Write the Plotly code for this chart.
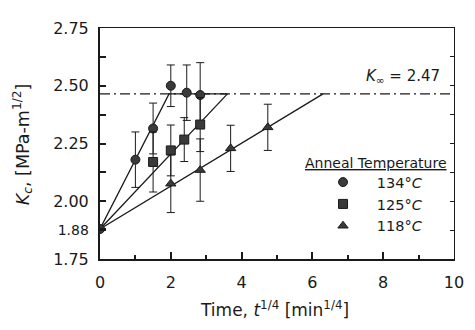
import plotly.graph_objects as go

# 134 C (circles)
t134 = [0, 1.0, 1.5, 2.0, 2.45, 2.83]
k134 = [1.88, 2.18, 2.315, 2.50, 2.47, 2.46]
e134 = [0, 0.12, 0.11, 0.09, 0.12, 0.14]
# 125 C (squares)
t125 = [1.5, 2.0, 2.38, 2.83]
k125 = [2.17, 2.22, 2.267, 2.332]
e125 = [0.13, 0.11, 0.095, 0.117]
# 118 C (triangles)
t118 = [2.0, 2.83, 3.69, 4.74]
k118 = [2.076, 2.135, 2.229, 2.32]
e118 = [0.125, 0.135, 0.10, 0.10]

# fit lines
fit134_x = [0, 1.95, 3.6]
fit134_y = [1.88, 2.465, 2.465]
fit125_x = [0, 3.6]
fit125_y = [1.88, 2.465]
fit118_x = [0, 6.3]
fit118_y = [1.88, 2.465]

k_inf = 2.465
kinf_x = [0, 10]

ytickvals = [1.75, 1.88, 2.00, 2.25, 2.50, 2.75]
yticktext = ["1.75", "<span style='font-size:14px'>1.88</span>", "2.00", "2.25", "2.50", "2.75"]
xtickvals = [0, 2, 4, 6, 8, 10]

INK = "#1a1a1a"
FONT = "DejaVu Sans, sans-serif"

fig = go.Figure()

fig.add_trace(go.Scatter(x=kinf_x, y=[k_inf, k_inf], mode="lines",
                         line=dict(color=INK, width=1.2, dash="10px,4px,2px,4px"),
                         showlegend=False, hoverinfo="skip"))
for fx, fy in [(fit134_x, fit134_y), (fit125_x, fit125_y), (fit118_x, fit118_y)]:
    fig.add_trace(go.Scatter(x=fx, y=fy, mode="lines",
                             line=dict(color=INK, width=1.3),
                             showlegend=False, hoverinfo="skip"))

def add_series(x, y, e, sym, name):
    fig.add_trace(go.Scatter(
        x=x, y=y, mode="markers", name=name,
        marker=dict(symbol=sym, size=9, color="#3a3a3a",
                    line=dict(color=INK, width=1)),
        error_y=dict(type="data", array=e, visible=True, color=INK,
                     thickness=1, width=4)))

add_series(t134, k134, e134, "circle", "&nbsp;&nbsp;&nbsp;134°<i>C</i>")
add_series(t125, k125, e125, "square", "&nbsp;&nbsp;&nbsp;125°<i>C</i>")
add_series(t118, k118, e118, "triangle-up", "&nbsp;&nbsp;&nbsp;118°<i>C</i>")

fig.update_layout(
    width=467, height=322,
    margin=dict(l=92, r=14, t=11, b=71),
    paper_bgcolor="white", plot_bgcolor="white",
    font=dict(family=FONT, size=16, color=INK),
    showlegend=True,
    legend=dict(x=0.630, y=0.402, xanchor="left", yanchor="top",
                bgcolor="rgba(0,0,0,0)", font=dict(size=14.5), tracegroupgap=0),
    xaxis=dict(range=[0, 10], tickvals=xtickvals, ticks="inside", ticklen=7,
               tickwidth=1.5, tickcolor=INK, showgrid=False, zeroline=False,
               showline=True, linecolor=INK, linewidth=2, mirror=False,
               minor=dict(ticks="inside", ticklen=4, dtick=1, tickcolor=INK),
               ticklabelstandoff=8),
    yaxis=dict(range=[1.75, 2.75], tickvals=ytickvals, ticktext=yticktext,
               ticks="inside", ticklen=6, tickwidth=1.5, tickcolor=INK,
               showgrid=False, zeroline=False, showline=True, linecolor=INK,
               linewidth=2, mirror=False,
               minor=dict(ticks="inside", ticklen=6, tickvals=[1.875, 2.125, 2.375, 2.625],
                          tickcolor=INK),
               ticklabelstandoff=6),
    xaxis2=dict(range=[0, 10], overlaying="x", side="top", showticklabels=False,
                showline=True, linecolor=INK, linewidth=1, ticks="", showgrid=False,
                zeroline=False),
    yaxis2=dict(range=[1.75, 2.75], overlaying="y", side="right", showticklabels=False,
                showline=True, linecolor=INK, linewidth=1, ticks="inside", ticklen=4,
                tickvals=[1.875, 2.0, 2.125, 2.25, 2.375, 2.5, 2.625], tickcolor=INK,
                showgrid=False, zeroline=False, anchor="x"),
    annotations=[
        dict(text="<i>K</i><sub><i>c</i></sub>, [MPa-m<sup>1/2</sup>]", textangle=-90,
             xref="paper", yref="paper", x=-0.218, y=0.496, showarrow=False,
             font=dict(size=17.5), xanchor="center", yanchor="middle"),
        dict(text="Time, <i>t</i><sup>1/4</sup> [min<sup>1/4</sup>]",
             xref="paper", yref="paper", x=0.492, y=-0.218, showarrow=False,
             font=dict(size=17), xanchor="center", yanchor="middle"),
        dict(text="<i>K</i><sub>∞</sub> = 2.47", xref="x", yref="y", x=8.55, y=2.54,
             showarrow=False, font=dict(size=15), xanchor="center", yanchor="middle"),
        dict(text="<u>Anneal Temperature</u>", xref="x", yref="y", x=5.74, y=2.165,
             showarrow=False, font=dict(size=14), xanchor="left", yanchor="middle"),
    ],
)
# dummy trace for the mirrored axes
fig.add_trace(go.Scatter(x=[None], y=[None], xaxis="x2", yaxis="y2", showlegend=False))

fig.write_html("out.html")
